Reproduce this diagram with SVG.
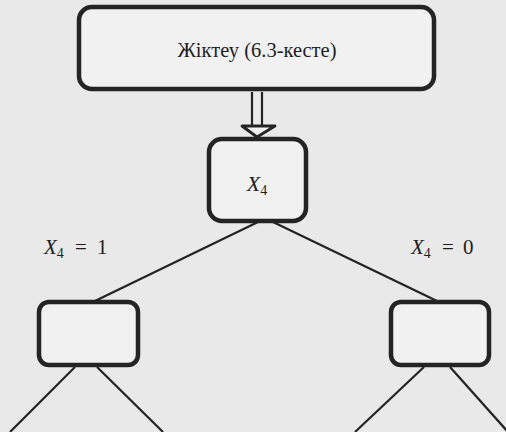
<svg xmlns="http://www.w3.org/2000/svg" width="506" height="432" viewBox="0 0 506 432">
<style>
.box{fill:#f1f1f1;stroke:#242424;stroke-width:4.5}
.ln{stroke:#242424;stroke-width:2.2;fill:none}
.t{font-family:'Liberation Serif','DejaVu Serif',serif;fill:#1e1e1e}
.i{font-style:italic}
</style>
<rect width="506" height="432" fill="#e9e9e9"/>
<g id="connectors">
  <line class="ln" x1="252" y1="92" x2="252" y2="126" stroke-width="3"/>
  <line class="ln" x1="262" y1="92" x2="262" y2="126" stroke-width="3"/>
  <path d="M242,126 L275,126 L257,137 Z" fill="#f1f1f1" stroke="#242424" stroke-width="2.8" stroke-linejoin="round"/>
  <line class="ln" x1="258" y1="222" x2="95" y2="301"/>
  <line class="ln" x1="273" y1="222" x2="437" y2="301"/>
  <line class="ln" x1="75" y1="367" x2="10" y2="432"/>
  <line class="ln" x1="97" y1="367" x2="163" y2="432"/>
  <line class="ln" x1="424" y1="367" x2="355" y2="432"/>
  <line class="ln" x1="450" y1="367" x2="508" y2="432"/>
</g>
<g id="root">
  <rect class="box" x="79" y="7" width="355" height="82" rx="13"/>
  <text class="t" font-family="Liberation Serif, serif" x="257" y="57" font-size="20.5" text-anchor="middle">Жіктеу (6.3-кесте)</text>
</g>
<g id="x4">
  <rect class="box" x="209" y="139" width="97" height="82" rx="13"/>
  <text class="t" font-family="Liberation Serif, serif" x="257" y="191" font-size="22" text-anchor="middle"><tspan class="i">X</tspan><tspan font-size="14" dy="4">4</tspan></text>
</g>
<g id="left">
  <rect class="box" x="39" y="302" width="99" height="63" rx="10"/>
</g>
<g id="right">
  <rect class="box" x="391" y="302" width="98" height="63" rx="10"/>
</g>
<g id="labels">
  <text class="t" font-family="Liberation Serif, serif" x="44" y="254" font-size="21"><tspan class="i">X</tspan><tspan font-size="14" dy="4">4</tspan><tspan dy="-4" x="75">=</tspan><tspan x="97">1</tspan></text>
  <text class="t" font-family="Liberation Serif, serif" x="411" y="254" font-size="21"><tspan class="i">X</tspan><tspan font-size="14" dy="4">4</tspan><tspan dy="-4" x="442">=</tspan><tspan x="463">0</tspan></text>
</g>
</svg>
